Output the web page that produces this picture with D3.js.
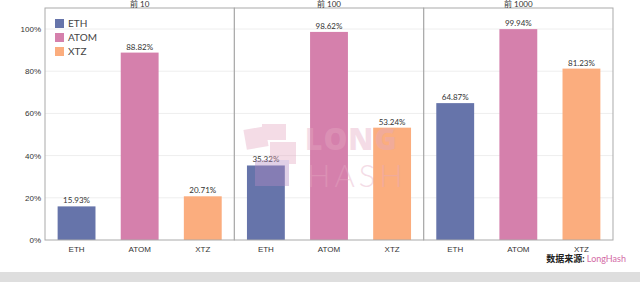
<!DOCTYPE html>
<html>
  <head>
    <meta charset="utf-8">
    <title>LongHash staking</title>
    <script src="https://d3js.org/d3.v7.min.js"></script>
    <style>
      body { margin: 0; background: #fff; font-family: "Lato", "Noto Sans CJK SC", sans-serif; }
      svg { display: block; }
      .axis path, .axis line { display: none; }
      .axis text { fill: #333; font-size: 8px; }
    </style>
  </head>
  <body>
    <svg id="chart" width="640" height="282"></svg>
    <script>
      // data
      const panels = ["前 10", "前 100", "前 1000"];
      const coins = ["ETH", "ATOM", "XTZ"];
      const eth = [15.93, 35.32, 64.87];
      const atom = [88.82, 98.62, 99.94];
      const xtz = [20.71, 53.24, 81.23];
      const yTicks = [0, 20, 40, 60, 80, 100];
      const colours = ["#6674aa", "#d580ac", "#fbad7e"];
      const series = [eth, atom, xtz];

      // page elements
      const margin = { top: 8, right: 27, bottom: 42, left: 45 };
      const width = 640, height = 282;
      const chart = d3.select("#chart");

      // bottom grey strip
      chart.append("rect")
        .attr("x", 0).attr("y", 272)
        .attr("width", width).attr("height", 10)
        .attr("fill", "#dedede");

      // scales
      const px = d3.scaleBand().domain(panels).range([margin.left, width - margin.right]).padding(0);
      const y = d3.scaleLinear().domain([0, 100]).range([height - margin.bottom, 29]);
      const x = d3.scaleBand().domain(coins).range([0, px.bandwidth()]).paddingInner(0.4).paddingOuter(0.2);
      const colour = d3.scaleOrdinal().domain(coins).range(colours);

      // gridlines
      chart.append("g")
        .selectAll("line")
          .data(yTicks.slice(1))
        .enter().append("line")
          .attr("x1", margin.left).attr("x2", width - margin.right)
          .attr("y1", d => y(d)).attr("y2", d => y(d))
          .attr("stroke", "#eeeeee");

      // panels
      panels.forEach(function(p, i) {
        const g = chart.append("g").attr("transform", "translate(" + px(p) + ",0)");
        const rows = coins.map((c, j) => ({ coin: c, value: series[j][i] }));
        g.selectAll(".bar")
            .data(rows)
          .enter().append("rect")
            .classed("bar", true)
            .attr("x", d => x(d.coin))
            .attr("width", x.bandwidth())
            .attr("y", d => y(d.value))
            .attr("height", d => y(0) - y(d.value))
            .attr("fill", d => colour(d.coin));
        g.selectAll(".lab")
            .data(rows)
          .enter().append("text")
            .classed("lab", true)
            .attr("x", d => x(d.coin) + x.bandwidth() / 2)
            .attr("y", d => y(d.value) - 3)
            .attr("text-anchor", "middle")
            .attr("font-size", 8)
            .attr("fill", "#333")
            .text(d => d.value.toFixed(2) + "%");
        g.append("g")
          .classed("axis", true)
          .attr("transform", "translate(0," + y(0) + ")")
          .call(d3.axisBottom(x).tickSize(0).tickPadding(6));
        // frame
        g.append("rect")
          .attr("x", 0).attr("y", margin.top)
          .attr("width", px.bandwidth()).attr("height", y(0) - margin.top)
          .attr("fill", "none").attr("stroke", "#aaaaaa");
        g.append("text")
          .attr("x", px.bandwidth() / 2).attr("y", 7)
          .attr("text-anchor", "middle")
          .attr("font-size", 8)
          .attr("fill", "#333")
          .text(p);
      });

      // watermark over the middle panel
      const wm = chart.append("g").attr("opacity", 0.4).attr("fill", "#e4a9c2");
      wm.append("rect").attr("x", 245).attr("y", 128).attr("width", 22).attr("height", 20)
        .attr("transform", "rotate(-10 256 138)");
      wm.append("rect").attr("x", 262).attr("y", 124).attr("width", 24).attr("height", 16);
      wm.append("rect").attr("x", 270).attr("y", 142).attr("width", 26).attr("height", 22);
      wm.append("rect").attr("x", 255).attr("y", 160).attr("width", 34).attr("height", 26)
        .attr("fill", "#b48cc4");
      wm.append("text").text("LONG")
        .attr("x", 305).attr("y", 150)
        .attr("font-size", 30).attr("font-weight", 800)
        .attr("letter-spacing", 1)
        .attr("font-family", "'Open Sans', 'DejaVu Sans', sans-serif");
      wm.append("text").text("HASH")
        .attr("x", 307).attr("y", 187)
        .attr("font-size", 31).attr("font-weight", 300)
        .attr("letter-spacing", 4)
        .attr("font-family", "Lato, sans-serif");

      // y axis
      chart.append("g")
        .classed("axis", true)
        .attr("transform", "translate(" + (margin.left - 2) + ",0)")
        .call(d3.axisLeft(y).tickValues(yTicks).tickSize(0).tickPadding(2).tickFormat(d => d + "%"));

      // legend
      const legend = chart.append("g").attr("transform", "translate(55,19)");
      const items = legend.selectAll("g")
          .data(coins)
        .enter().append("g")
          .attr("transform", (d, i) => "translate(0," + i * 14 + ")");
      items.append("rect").attr("width", 9).attr("height", 9).attr("fill", d => colour(d));
      items.append("text").attr("x", 13).attr("y", 8).attr("font-size", 10).attr("fill", "#444").text(d => d);

      // source
      const src = chart.append("text")
        .attr("x", 626).attr("y", 262)
        .attr("text-anchor", "end")
        .attr("font-size", 9);
      src.append("tspan").attr("fill", "#222").attr("font-weight", 700).text("数据来源: ");
      src.append("tspan").attr("fill", "#d36aa6").text("LongHash");
    </script>
  </body>
</html>
